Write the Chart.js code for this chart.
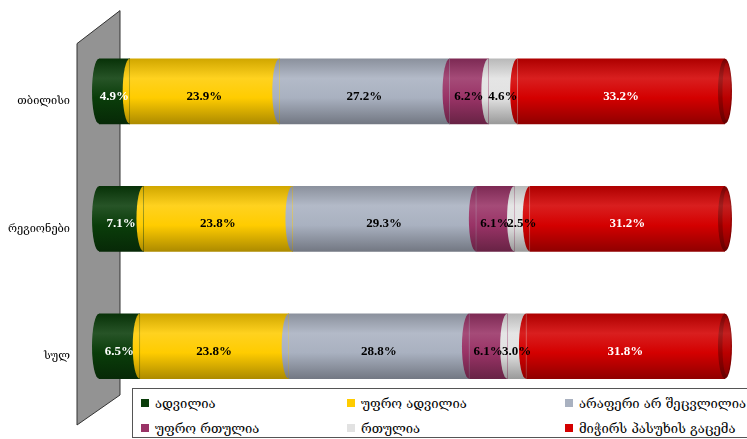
<!DOCTYPE html>
<html>
<head>
<meta charset="utf-8">
<script src="https://cdn.jsdelivr.net/npm/chart.js@4.4.1/dist/chart.umd.min.js"></script>
<style>
  html, body { margin: 0; padding: 0; background: #fff; }
  #wrap { position: relative; width: 747px; height: 439px; overflow: hidden; }
  #legend {
    position: absolute; left: 132px; top: 388px; width: 620px; height: 50px;
    border: 1px solid #555; box-sizing: border-box; background: #fff;
    font: 13px "DejaVu Serif", "DejaVu Sans", serif; color: #000;
  }
  #legend .item { position: absolute; height: 16px; display: flex; align-items: center; white-space: nowrap; }
  #legend .item i { display: inline-block; width: 8px; height: 8px; margin-right: 6px; }
</style>
</head>
<body>
<div id="wrap">
  <canvas id="chart" width="747" height="439"></canvas>
  <div id="legend"></div>
</div>
<script>
// survey answers by area, percent of respondents
const categories = ['თბილისი', 'რეგიონები', 'სულ'];
const seriesNames = [
  'ადვილია',
  'უფრო ადვილია',
  'არაფერი არ შეცვლილია',
  'უფრო რთულია',
  'რთულია',
  'მიჭირს პასუხის გაცემა',
];
const easy       = [4.9, 7.1, 6.5];
const easier     = [23.9, 23.8, 23.8];
const unchanged  = [27.2, 29.3, 28.8];
const harder     = [6.2, 6.1, 6.1];
const hard       = [4.6, 2.5, 3.0];
const noAnswer   = [33.2, 31.2, 31.8];
const seriesValues = [easy, easier, unchanged, harder, hard, noAnswer];

const seriesColors = ['#0a3d0a', '#ffcc00', '#a9b1c0', '#993366', '#e2e2e2', '#d40000'];
const labelColors  = ['#fff', '#000', '#000', '#000', '#000', '#fff'];

const BAR_H = 65;   // cylinder thickness
const CAP_RX = 7;   // horizontal radius of the cylinder ends

function shade(hex, amt) {
  const n = parseInt(hex.slice(1), 16);
  let r = n >> 16, g = (n >> 8) & 255, b = n & 255;
  const t = amt < 0 ? 0 : 255, p = Math.abs(amt);
  r = Math.round(r + (t - r) * p);
  g = Math.round(g + (t - g) * p);
  b = Math.round(b + (t - b) * p);
  return '#' + ((1 << 24) | (r << 16) | (g << 8) | b).toString(16).slice(1);
}

function cylinderFill(ctx, color, top, bottom) {
  const g = ctx.createLinearGradient(0, top, 0, bottom);
  g.addColorStop(0, shade(color, -0.18));
  g.addColorStop(0.3, shade(color, 0.12));
  g.addColorStop(0.6, color);
  g.addColorStop(1, shade(color, -0.32));
  return g;
}

// grey back wall behind the bars
const wallPlugin = {
  id: 'wall',
  beforeDatasetsDraw(chart) {
    const { ctx, chartArea: a } = chart;
    const right = a.left + 21, left = a.left - 22;
    ctx.save();
    ctx.beginPath();
    ctx.moveTo(left, a.top + 16);
    ctx.lineTo(right, a.top - 17);
    ctx.lineTo(right, a.bottom - 15);
    ctx.lineTo(left, a.bottom + 15);
    ctx.closePath();
    ctx.fillStyle = '#939393';
    ctx.fill();
    ctx.lineWidth = 1;
    ctx.strokeStyle = '#333';
    ctx.stroke();
    ctx.restore();
  }
};

// rounded ends so each stacked bar reads as a cylinder
const cylinderPlugin = {
  id: 'cylinders',
  afterDatasetsDraw(chart) {
    const ctx = chart.ctx;
    const last = chart.data.datasets.length - 1;
    chart.data.datasets.forEach((ds, i) => {
      chart.getDatasetMeta(i).data.forEach(bar => {
        const { x, y, base, height } = bar.getProps(['x', 'y', 'base', 'height'], true);
        const top = y - height / 2, bottom = y + height / 2;
        ctx.save();
        ctx.beginPath();
        ctx.ellipse(base, y, CAP_RX, height / 2, 0, Math.PI / 2, Math.PI * 1.5);
        ctx.closePath();
        ctx.fillStyle = cylinderFill(ctx, seriesColors[i], top, bottom);
        ctx.fill();
        if (i === last) {
          ctx.beginPath();
          ctx.ellipse(x, y, CAP_RX, height / 2, 0, 0, Math.PI * 2);
          ctx.fillStyle = cylinderFill(ctx, shade(seriesColors[i], -0.3), top, bottom);
          ctx.fill();
          ctx.beginPath();
          ctx.ellipse(x + 1.5, y, CAP_RX - 3, height / 2 - 4, 0, 0, Math.PI * 2);
          ctx.fillStyle = cylinderFill(ctx, shade(seriesColors[i], -0.12), top, bottom);
          ctx.fill();
        }
        ctx.restore();
      });
    });
  }
};

// percent labels inside each segment
const valueLabelPlugin = {
  id: 'valueLabels',
  afterDatasetsDraw(chart) {
    const ctx = chart.ctx;
    ctx.save();
    ctx.font = 'bold 13px "Liberation Serif", "Times New Roman", serif';
    ctx.textAlign = 'center';
    ctx.textBaseline = 'middle';
    chart.data.datasets.forEach((ds, i) => {
      chart.getDatasetMeta(i).data.forEach((bar, j) => {
        const { x, y, base } = bar.getProps(['x', 'y', 'base'], true);
        ctx.fillStyle = labelColors[i];
        ctx.fillText(ds.data[j].toFixed(1) + '%', (x + base) / 2, y + 5);
      });
    });
    ctx.restore();
  }
};

const datasets = seriesNames.map((name, i) => ({
  label: name,
  data: seriesValues[i],
  backgroundColor: (c) => {
    const yScale = c.chart.scales.y;
    const mid = yScale ? yScale.getPixelForValue(c.dataIndex) : NaN;
    if (!Number.isFinite(mid)) return seriesColors[i];
    return cylinderFill(c.chart.ctx, seriesColors[i], mid - BAR_H / 2, mid + BAR_H / 2);
  },
  borderWidth: 0,
  barThickness: BAR_H,
}));

new Chart(document.getElementById('chart'), {
  type: 'bar',
  data: { labels: categories, datasets },
  options: {
    indexAxis: 'y',
    responsive: false,
    animation: false,
    devicePixelRatio: 1,
    layout: { padding: { top: 16, bottom: 29, right: 22, left: 0 } },
    scales: {
      x: { stacked: true, min: 0, max: 100, display: false },
      y: {
        stacked: true,
        grid: { display: false },
        border: { display: false },
        afterFit(scale) { scale.width = 99; },
        ticks: {
          color: '#000',
          padding: 21,
          labelOffset: 10,
          font: { family: '"DejaVu Serif", "DejaVu Sans", serif', size: 11 },
        },
      },
    },
    plugins: {
      legend: { display: false },
      tooltip: { enabled: false },
    },
  },
  plugins: [wallPlugin, cylinderPlugin, valueLabelPlugin],
});

// legend box: two rows of three entries
const legendEl = document.getElementById('legend');
const colLeft = [8, 214, 432];
seriesNames.forEach((name, i) => {
  const item = document.createElement('div');
  item.className = 'item';
  item.style.left = colLeft[i % 3] + 'px';
  item.style.top = (i < 3 ? 6 : 31) + 'px';
  item.innerHTML = `<i style="background:${seriesColors[i]}"></i><span>${name}</span>`;
  legendEl.appendChild(item);
});
</script>
</body>
</html>
